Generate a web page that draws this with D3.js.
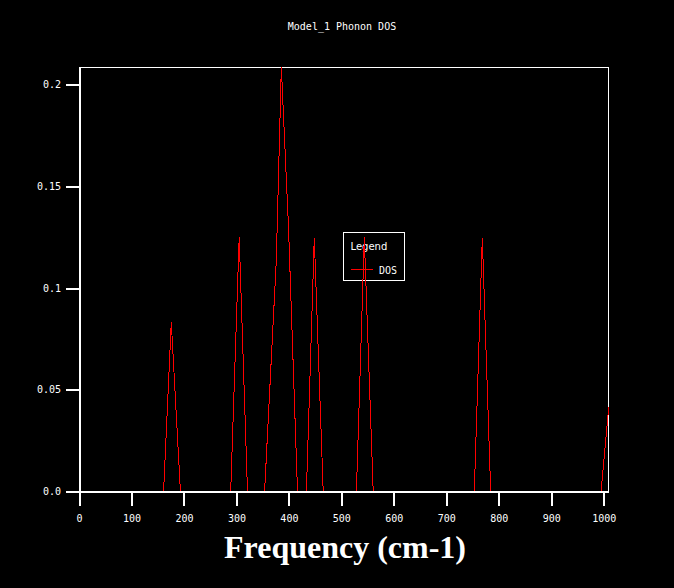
<!DOCTYPE html>
<html>
<head>
<meta charset="utf-8">
<script src="https://cdn.jsdelivr.net/npm/d3@7"></script>
<style>
  body { margin: 0; background: #000; }
  svg { display: block; background: #000; }
  .axis text { fill: #fff; font-family: "DejaVu Sans Mono", monospace; font-size: 10px; }
  .axis line, .axis path { stroke: #fff; stroke-width: 2; shape-rendering: crispEdges; }
</style>
</head>
<body>
<svg id="chart" width="674" height="588"></svg>
<script>
// phonon DOS (triangular peaks, zero in between)
var freq = [0, 161.2, 175.9, 193.3, 289.1, 305.3, 321.1, 353.7, 376.0, 385.6, 399.3, 416.4,
            433.4, 448.4, 465.4, 528.7, 543.7, 560.7, 753.4, 768.6, 784.6, 994.9, 1009.5];
var dos  = [0, 0, 0.0833, 0, 0, 0.125, 0, 0, 0.1135, 0.2085, 0.1298, 0,
            0, 0.1247, 0, 0, 0.125, 0, 0, 0.1247, 0, 0, 0.0415];

var xTicks = [0, 100, 200, 300, 400, 500, 600, 700, 800, 900, 1000];
var yTicks = [0, 0.05, 0.1, 0.15, 0.2];
var yTickLabels = ["0.0", "0.05", "0.1", "0.15", "0.2"];

var title = "Model_1 Phonon DOS",
    xLabel = "Frequency (cm-1)",
    seriesName = "DOS";

var svg = d3.select("#chart"),
    margin = {left: 79, right: 608.7, top: 67.3, bottom: 491.5};

var data = freq.map(function(f, i) { return {f: f, v: dos[i]}; });

var x = d3.scaleLinear()
    .domain([0, d3.max(freq)])
    .range([margin.left, margin.right]);

var y = d3.scaleLinear()
    .domain([0, d3.max(dos)])
    .range([margin.bottom, margin.top]);

// frame (top / right thin)
svg.append("rect")
    .attr("x", margin.left).attr("y", margin.top)
    .attr("width", margin.right - margin.left).attr("height", margin.bottom - margin.top)
    .attr("fill", "none")
    .attr("stroke", "#fff")
    .attr("stroke-width", 1)
    .attr("shape-rendering", "crispEdges");

// title
svg.append("text")
    .attr("x", 342).attr("y", 30)
    .attr("text-anchor", "middle")
    .attr("fill", "#fff")
    .style("font-family", "DejaVu Sans Mono, monospace")
    .style("font-size", "10px")
    .text(title);

// x label
svg.append("text")
    .attr("x", 345).attr("y", 558)
    .attr("text-anchor", "middle")
    .attr("fill", "#fff")
    .style("font-family", "Liberation Serif, serif")
    .style("font-size", "32px")
    .style("font-weight", "bold")
    .text(xLabel);

// legend
var lg = svg.append("g").attr("transform", "translate(343.5,232.5)");
lg.append("rect")
    .attr("width", 61).attr("height", 48)
    .attr("fill", "none")
    .attr("stroke", "#fff")
    .attr("stroke-width", 1)
    .attr("shape-rendering", "crispEdges");
lg.append("text")
    .attr("x", 7).attr("y", 17.5)
    .attr("fill", "#fff")
    .style("font-family", "DejaVu Sans, sans-serif")
    .style("font-size", "10px")
    .text("Legend");
lg.append("line")
    .attr("x1", 7.5).attr("x2", 29.5)
    .attr("y1", 37).attr("y2", 37)
    .attr("stroke", "red")
    .attr("stroke-width", 1)
    .attr("shape-rendering", "crispEdges");
lg.append("text")
    .attr("x", 35.5).attr("y", 41)
    .attr("fill", "#fff")
    .style("font-family", "DejaVu Sans Mono, monospace")
    .style("font-size", "10px")
    .text(seriesName);

// DOS line
var line = d3.line()
    .x(function(d) { return x(d.f); })
    .y(function(d) { return y(d.v); });

svg.append("path")
    .datum(data)
    .attr("fill", "none")
    .attr("stroke", "red")
    .attr("stroke-width", 1)
    .attr("shape-rendering", "crispEdges")
    .attr("d", line);

// axes on top of the line
svg.append("g")
    .attr("class", "axis axis--x")
    .attr("transform", "translate(0," + margin.bottom + ")")
    .call(d3.axisBottom(x).tickValues(xTicks).tickSize(14).tickSizeOuter(0).tickPadding(9)
      .tickFormat(function(d) { return String(d); }));

svg.append("g")
    .attr("class", "axis axis--y")
    .attr("transform", "translate(" + margin.left + ",0)")
    .call(d3.axisLeft(y).tickValues(yTicks).tickSize(13).tickSizeOuter(0).tickPadding(5)
      .tickFormat(function(d, i) { return yTickLabels[i]; }));
</script>
</body>
</html>
